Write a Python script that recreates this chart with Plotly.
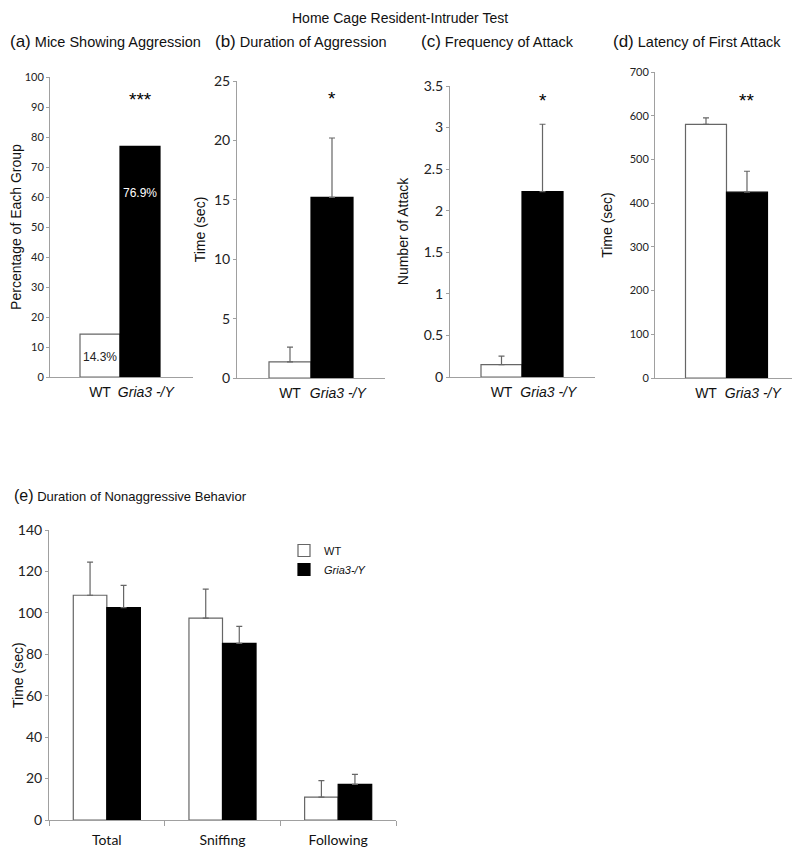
import plotly.graph_objects as go

W, H = 800, 847

# ---- data ----
groups = ["WT", "Gria3 -/Y"]
group_ticktext = ["WT", "\u00a0\u00a0\u00a0<i>Gria3 -/Y</i>"]

pct_aggr = [14.3, 76.9]                 # (a)
dur_aggr = [1.35, 15.2]                 # (b)
dur_aggr_err = [1.25, 5.0]
freq_attack = [0.15, 2.23]              # (c)
freq_attack_err = [0.10, 0.81]
latency = [580, 425]                    # (d)
latency_err = [15, 48]
significance = ["***", "*", "*", "**"]

behaviors = ["Total", "Sniffing", "Following"]   # (e)
wt_nonaggr = [108.5, 97.5, 11.0]
wt_nonaggr_err = [16.0, 14.0, 8.0]
ko_nonaggr = [102.5, 85.3, 17.2]
ko_nonaggr_err = [10.8, 8.2, 4.8]

fig = go.Figure()

OFF = 8  # page offset of the plot div (body margin)

def fx(px):
    return (px - OFF) / W

def fy(py):
    return 1 - (py - OFF) / H

def px_x(a, b):
    return [fx(a), fx(b)]

def px_y(top, bot):
    return [fy(bot), fy(top)]

AX = "#a0a0a0"
ARIAL = "Liberation Sans, Arial, sans-serif"
CALI = "Lato, Open Sans, sans-serif"

panels = [
    dict(n="", v=pct_aggr, e=None, xd=(50, 193), yd=(77, 377), xr=[-1.25, 2.325], yr=[0, 100], dt=10,
         tf=dict(family=CALI, size=11, color="#222"), t="Percentage of Each Group", so=1, sy=0.968),
    dict(n="2", v=dur_aggr, e=dur_aggr_err, xd=(237, 385), yd=(81, 378), xr=[-1.262, 2.262], yr=[0, 25], dt=5,
         tf=dict(family=CALI, size=14, color="#222"), t="Time (sec)", so=5, sy=0.982),
    dict(n="3", v=freq_attack, e=freq_attack_err, xd=(450, 595), yd=(86, 377), xr=[-1.256, 2.28], yr=[0, 3.5], dt=0.5,
         tf=dict(family=CALI, size=14, color="#222"), t="Number of Attack", so=11, sy=0.994),
    dict(n="4", v=latency, e=latency_err, xd=(655, 797), yd=(72, 378), xr=[-1.244, 2.22], yr=[0, 700], dt=100,
         tf=dict(family=CALI, size=11, color="#222"), t="Time (sec)", so=13, sy=0.947),
]

for i, p in enumerate(panels):
    n = p["n"]
    xa, ya = "x" + n, "y" + n
    err = None
    if p["e"] is not None:
        err = dict(type="data", symmetric=False, array=p["e"], arrayminus=[0] * len(p["e"]),
                   color="#666", thickness=1.2, width=3)
    fig.add_trace(go.Bar(
        x=groups, y=p["v"], width=1, xaxis=xa, yaxis=ya,
        marker=dict(color=["white", "black"], line=dict(color=["#666", "black"], width=1.2)),
        error_y=err, showlegend=False, hoverinfo="skip"))
    fig.layout["xaxis" + n] = dict(domain=px_x(*p["xd"]), anchor=ya, type="category",
                                    range=p["xr"], showline=True, linecolor=AX, linewidth=1,
                                    ticks="", tickvals=groups, ticktext=group_ticktext, tickangle=0,
                                    ticklabelstandoff=2,
                                    tickfont=dict(family=ARIAL, size=14, color="#111"),
                                    showgrid=False, zeroline=False, automargin=False)
    fig.layout["yaxis" + n] = dict(domain=px_y(*p["yd"]), anchor=xa, range=p["yr"], dtick=p["dt"],
                                    showline=True, linecolor=AX, linewidth=1, ticks="outside",
                                    ticklen=3, tickcolor=AX, tickfont=p["tf"], showgrid=False,
                                    zeroline=False, automargin=False,
                                    title=dict(text=p["t"], font=dict(family=ARIAL, size=14, color="#111"),
                                               standoff=p["so"]))
    fig.add_annotation(text=significance[i], x=groups[1], y=p["sy"], xref=xa, yref=ya + " domain",
                       showarrow=False, font=dict(family=ARIAL, size=19, color="black"))

# percentage labels in (a)
fig.add_annotation(text=f"{pct_aggr[0]}%", x=groups[0], y=6.7, xref="x", yref="y", showarrow=False,
                   font=dict(family=ARIAL, size=12, color="#222"))
fig.add_annotation(text=f"{pct_aggr[1]}%", x=groups[1], y=61.3, xref="x", yref="y", showarrow=False,
                   font=dict(family=ARIAL, size=12, color="white"))

# (e) grouped bars
fig.add_trace(go.Bar(x=behaviors, y=wt_nonaggr, name="WT", xaxis="x5", yaxis="y5",
                     marker=dict(color="white", line=dict(color="#666", width=1.2)),
                     error_y=dict(type="data", symmetric=False, array=wt_nonaggr_err,
                                  arrayminus=[0] * 3, color="#666", thickness=1.2, width=3)))
fig.add_trace(go.Bar(x=behaviors, y=ko_nonaggr, name="<i>Gria3-/Y</i>", xaxis="x5", yaxis="y5",
                     marker=dict(color="black", line=dict(color="black", width=1.2)),
                     error_y=dict(type="data", symmetric=False, array=ko_nonaggr_err,
                                  arrayminus=[0] * 3, color="#666", thickness=1.2, width=3)))
fig.layout["xaxis5"] = dict(domain=px_x(49, 396), anchor="y5", type="category", showline=True,
                            linecolor=AX, ticks="outside", tickson="boundaries", ticklen=5, tickcolor=AX,
                            tickangle=0, automargin=False, ticklabelstandoff=7,
                            tickfont=dict(family=CALI, size=14, color="#111"), showgrid=False, zeroline=False)
fig.layout["yaxis5"] = dict(domain=px_y(530, 820), anchor="x5", range=[0, 140], dtick=20, showline=True,
                            linecolor=AX, ticks="outside", ticklen=3, tickcolor=AX, automargin=False,
                            tickfont=dict(family=CALI, size=14, color="#222"), showgrid=False, zeroline=False)
fig.add_annotation(text="Time (sec)", textangle=-90, x=0, y=fy(675), xref="paper", yref="paper",
                   xanchor="left", yanchor="middle", showarrow=False,
                   font=dict(family=ARIAL, size=14, color="#111"))

# titles
fig.add_annotation(text="Home Cage Resident-Intruder Test", x=fx(400), y=1, xref="paper", yref="paper",
                   yanchor="top", showarrow=False, font=dict(family=ARIAL, size=14, color="#111"))
subtitles = ["<span style='font-size:17px'>(a)</span> Mice Showing Aggression",
             "<span style='font-size:17px'>(b)</span> Duration of Aggression",
             "<span style='font-size:17px'>(c)</span> Frequency of Attack",
             "<span style='font-size:17px'>(d)</span> Latency of First Attack"]
sub_x = [8, 213, 419, 611]
for s, sx in zip(subtitles, sub_x):
    fig.add_annotation(text=s, x=fx(sx), y=fy(42), xref="paper", yref="paper", xanchor="left",
                       yanchor="middle", showarrow=False, font=dict(family=ARIAL, size=14.5, color="#111"))
fig.add_annotation(text="<span style='font-size:16px'>(e)</span> Duration of Nonaggressive Behavior",
                   x=fx(12), y=fy(495), xref="paper", yref="paper", xanchor="left", yanchor="middle",
                   showarrow=False, font=dict(family=ARIAL, size=13, color="#111"))

fig.update_layout(
    template="none",
    width=W, height=H, margin=dict(l=0, r=0, t=0, b=0, autoexpand=False),
    paper_bgcolor="white", plot_bgcolor="white",
    barmode="group", bargap=0.42, bargroupgap=0,
    showlegend=True,
    legend=dict(x=fx(284), y=fy(536), xanchor="left", yanchor="top", bgcolor="rgba(0,0,0,0)",
                font=dict(family=ARIAL, size=11, color="#111"), itemwidth=30, tracegroupgap=0),
)

fig.write_html("out.html")
